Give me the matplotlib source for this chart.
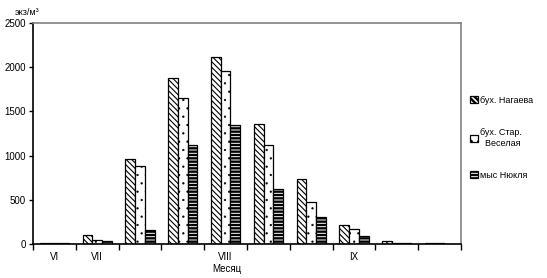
import numpy as np
import matplotlib
matplotlib.use("Agg")
import matplotlib.pyplot as plt

plt.rcParams['font.family'] = ['Liberation Sans', 'DejaVu Sans']

# data
periods = ['VI', 'VII', '', '', 'VIII', '', '', 'IX', '', '']
nagaeva = [10, 100, 965, 1880, 2120, 1360, 730, 220, 35, 8]
veselaya = [10, 45, 885, 1650, 1960, 1120, 480, 170, 8, 8]
nyuklya = [10, 35, 160, 1120, 1350, 620, 310, 90, 8, 0]
series_names = ['бух. Нагаева', 'бух. Стар.\n  Веселая', 'мыс Нюкля']

fig = plt.figure(figsize=(5.47, 2.78), dpi=100)
ax = fig.add_axes([0.0603, 0.1223, 0.7825, 0.795])

x = np.arange(len(periods))
w = 0.227
hatches = ['\\\\\\\\\\\\', '..', '-----']
hatch_lw = [0.8, 0.4, 1.7]
series = [nagaeva, veselaya, nyuklya]
bars = []
for i, (vals, h) in enumerate(zip(series, hatches)):
    plt.rcParams['hatch.linewidth'] = hatch_lw[i]
    b = ax.bar(x + (i - 1) * w, vals, w, color='white', edgecolor='black',
               hatch=h, linewidth=0.9)
    bars.append(b)

ax.set_xlim(-0.5, len(periods) - 0.5)
ax.set_ylim(0, 2500)
ax.set_yticks(np.arange(0, 2501, 500))
ax.set_xticks(np.arange(-0.5, len(periods), 1.0))
ax.set_xticklabels([])
ax.set_xticks(x, minor=True)
ax.set_xticklabels(periods, minor=True)
ax.tick_params(axis='x', which='minor', length=0, pad=6, labelsize=7)
ax.tick_params(axis='x', which='major', length=4, direction='out', width=1)
ax.tick_params(axis='y', length=3, width=1, labelsize=7, pad=2)

for side in ['top', 'right']:
    ax.spines[side].set_color('#808080')
    ax.spines[side].set_linewidth(1.2)
for side in ['left', 'bottom']:
    ax.spines[side].set_linewidth(1.2)

ax.set_xlabel('Месяц', fontsize=7, labelpad=2)
ax.xaxis.set_label_coords(0.453, -0.09)
fig.text(0.027, 0.955, 'экз/м³', fontsize=6.5, ha='left', va='center')

leg = fig.legend(bars, series_names, loc='upper left',
                 bbox_to_anchor=(0.845, 0.685), frameon=False, fontsize=6.5,
                 handlelength=0.8, handleheight=0.8, handletextpad=0.3,
                 labelspacing=2.6)

fig.savefig('out.png', dpi=100)
